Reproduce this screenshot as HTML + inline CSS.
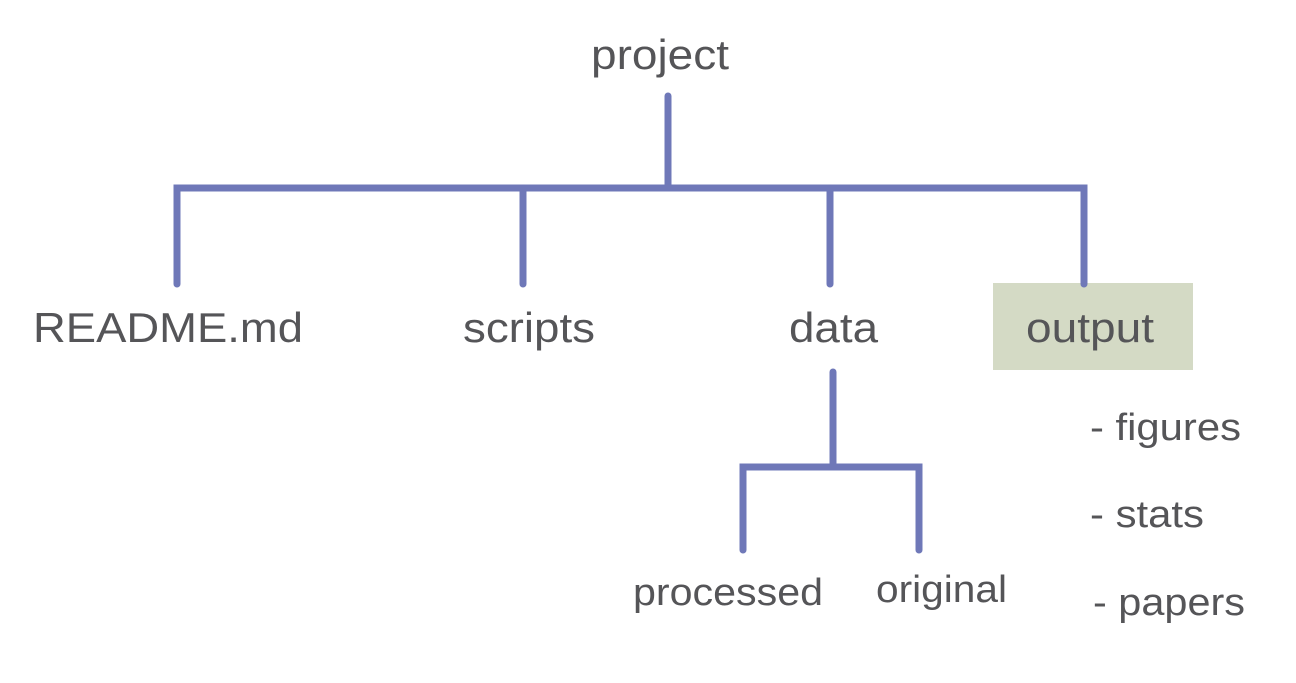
<!DOCTYPE html>
<html><head><meta charset="utf-8"><style>
html,body{margin:0;padding:0;background:#fff;}
svg{display:block}
text{font-family:"Liberation Sans",sans-serif;fill:#555558;}
</style></head><body>
<svg width="1296" height="683" viewBox="0 0 1296 683">
<rect x="993" y="283" width="200" height="87" fill="#d4dac5"/>
<g stroke="#6f78b8" stroke-width="7" fill="none" stroke-linecap="round" stroke-linejoin="miter">
<line x1="668" y1="96" x2="668" y2="188"/>
<path d="M177 284 V188 H1084 V284"/>
<line x1="523" y1="188" x2="523" y2="284"/>
<line x1="830" y1="188" x2="830" y2="284"/>
<line x1="833" y1="372" x2="833" y2="466"/>
<path d="M743 550 V467 H919 V550"/>
</g>
<text x="591" y="69" font-size="42" textLength="138" lengthAdjust="spacingAndGlyphs">project</text>
<text x="33" y="342" font-size="42" textLength="270" lengthAdjust="spacingAndGlyphs">README.md</text>
<text x="463" y="342" font-size="42" textLength="132" lengthAdjust="spacingAndGlyphs">scripts</text>
<text x="789" y="342" font-size="42" textLength="89" lengthAdjust="spacingAndGlyphs">data</text>
<text x="1026" y="342" font-size="42" textLength="128" lengthAdjust="spacingAndGlyphs">output</text>
<text x="633" y="605" font-size="38" textLength="190" lengthAdjust="spacingAndGlyphs">processed</text>
<text x="876" y="602" font-size="38" textLength="131" lengthAdjust="spacingAndGlyphs">original</text>
<text x="1090" y="440" font-size="38" textLength="151" lengthAdjust="spacingAndGlyphs">- figures</text>
<text x="1090" y="527" font-size="38" textLength="114" lengthAdjust="spacingAndGlyphs">- stats</text>
<text x="1093" y="615" font-size="38" textLength="152" lengthAdjust="spacingAndGlyphs">- papers</text>
</svg>
</body></html>
